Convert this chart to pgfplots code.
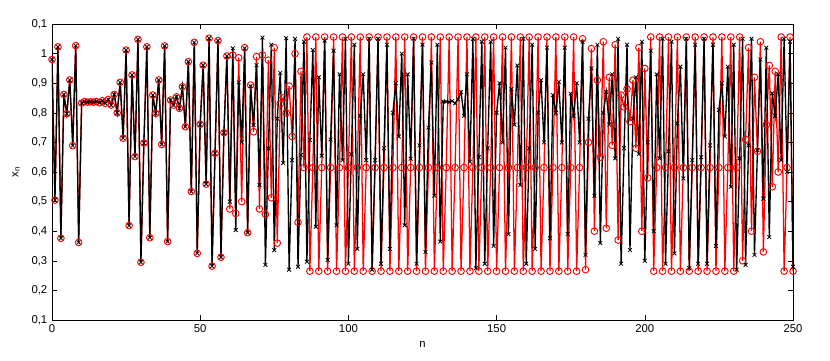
\documentclass[border=0pt]{standalone}
\usepackage{fontspec}
\setmainfont{Liberation Sans}
\usepackage{pgfplots}
\pgfplotsset{compat=1.18}
\begin{document}
\begin{tikzpicture}
\path[use as bounding box] (-39pt,-30pt) rectangle (583.5pt,240pt);
\begin{axis}[
  at={(0,0)}, anchor=south west, scale only axis,
  width=555.75pt, height=222pt,
  xmin=0, xmax=250, ymin=0.1, ymax=1.1,
  xtick={0,50,100,150,200,250},
  ytick={0.1,0.2,0.3,0.4,0.5,0.6,0.7,0.8,0.9,1.0,1.1},
  yticklabels={{0,1},{0,2},{0,3},{0,4},{0,5},{0,6},{0,7},{0,8},{0,9},{1},{0,1}},
  /pgf/number format/assume math mode=true,
  tick align=inside, xtick pos=both, ytick pos=both,
  major tick length=3.5pt,
  tick style={black, line width=0.4pt},
  axis line style={black, line width=0.6pt},
  tick label style={font=\fontsize{8.5}{9}\selectfont},
  label style={font=\fontsize{8.5}{9}\selectfont},
  xlabel={n}, ylabel={x\textsubscript{n}},
  xlabel style={yshift=0pt},
  ylabel style={yshift=2pt},
  clip=true,
]
\addplot[red, line width=0.95pt, mark=o, mark size=2.5pt, mark options={solid, line width=0.7pt}] table {
n y
0 0.98
1 0.505
2 1.023
3 0.376
4 0.862
5 0.797
6 0.911
7 0.689
8 1.027
9 0.362
10 0.833
11 0.838
12 0.836
13 0.837
14 0.836
15 0.838
16 0.834
17 0.841
18 0.832
19 0.845
20 0.826
21 0.862
22 0.80
23 0.903
24 0.714
25 1.012
26 0.419
27 0.928
28 0.652
29 1.048
30 0.295
31 0.698
32 1.023
33 0.378
34 0.86
35 0.798
36 0.911
37 0.693
38 1.026
39 0.365
40 0.843
41 0.826
42 0.854
43 0.815
44 0.888
45 0.753
46 0.973
47 0.534
48 1.038
49 0.325
50 0.761
51 0.961
52 0.559
53 1.052
54 0.282
55 0.663
56 1.044
57 0.312
58 0.733
59 0.992
60 0.475
61 0.995
62 0.46
63 0.986
64 0.50
65 1.02
66 0.395
67 0.894
68 0.736
69 0.99
70 0.475
71 0.995
72 0.457
73 0.978
74 0.513
75 1.02
76 0.36
77 0.83
78 0.85
79 0.80
80 0.89
81 0.72
82 1.0
83 0.43
84 0.94
85 0.615
86 1.056
87 0.265
88 0.615
89 1.056
90 0.265
91 0.615
92 1.056
93 0.265
94 0.615
95 1.056
96 0.265
97 0.615
98 1.056
99 0.265
100 0.615
101 1.056
102 0.265
103 0.615
104 1.056
105 0.265
106 0.615
107 1.056
108 0.265
109 0.615
110 1.056
111 0.265
112 0.615
113 1.056
114 0.265
115 0.615
116 1.056
117 0.265
118 0.615
119 1.056
120 0.265
121 0.615
122 1.056
123 0.265
124 0.615
125 1.056
126 0.265
127 0.615
128 1.056
129 0.265
130 0.615
131 1.056
132 0.265
133 0.615
134 1.056
135 0.265
136 0.615
137 1.056
138 0.265
139 0.615
140 1.056
141 0.265
142 0.615
143 1.056
144 0.265
145 0.615
146 1.056
147 0.265
148 0.615
149 1.056
150 0.265
151 0.615
152 1.056
153 0.265
154 0.615
155 1.056
156 0.265
157 0.615
158 1.056
159 0.265
160 0.615
161 1.056
162 0.265
163 0.615
164 1.056
165 0.265
166 0.615
167 1.056
168 0.265
169 0.615
170 1.056
171 0.265
172 0.615
173 1.056
174 0.265
175 0.615
176 1.056
177 0.265
178 0.615
179 1.05
180 0.27
181 0.70
182 1.017
183 0.40
184 0.91
185 0.65
186 1.04
187 0.41
188 0.92
189 0.69
190 1.03
191 0.37
192 0.86
193 0.82
194 0.88
195 0.77
196 0.91
197 0.68
198 1.02
199 0.40
200 0.95
201 0.58
202 1.056
203 0.265
204 0.615
205 1.056
206 0.265
207 0.615
208 1.056
209 0.265
210 0.615
211 1.056
212 0.265
213 0.615
214 1.056
215 0.265
216 0.615
217 1.056
218 0.265
219 0.615
220 1.056
221 0.265
222 0.615
223 1.056
224 0.265
225 0.615
226 1.056
227 0.265
228 0.615
229 1.056
230 0.265
231 0.615
232 1.056
233 0.30
234 0.71
235 1.02
236 0.40
237 0.92
238 0.67
239 1.04
240 0.33
241 0.76
242 0.96
243 0.55
244 0.94
245 0.60
246 1.056
247 0.265
248 0.615
249 1.056
250 0.265
};
\addplot[black, line width=1pt, mark=x, mark size=2pt, mark options={solid, line width=0.6pt}] table {
n y
0 0.98
1 0.505
2 1.023
3 0.376
4 0.862
5 0.797
6 0.911
7 0.689
8 1.027
9 0.362
10 0.833
11 0.838
12 0.836
13 0.837
14 0.836
15 0.838
16 0.834
17 0.841
18 0.832
19 0.845
20 0.826
21 0.862
22 0.80
23 0.903
24 0.714
25 1.012
26 0.419
27 0.928
28 0.652
29 1.048
30 0.295
31 0.698
32 1.023
33 0.378
34 0.86
35 0.798
36 0.911
37 0.693
38 1.026
39 0.365
40 0.843
41 0.826
42 0.854
43 0.815
44 0.888
45 0.753
46 0.973
47 0.534
48 1.038
49 0.325
50 0.761
51 0.961
52 0.559
53 1.052
54 0.282
55 0.663
56 1.044
57 0.312
58 0.733
59 0.992
60 0.50
61 1.018
62 0.404
63 0.903
64 0.70
65 1.018
66 0.395
67 0.89
68 0.759
69 0.961
70 0.556
71 1.054
72 0.286
73 0.68
74 1.03
75 0.336
76 0.78
77 0.935
78 0.63
79 1.052
80 0.27
81 0.64
82 1.05
83 0.28
84 0.657
85 1.04
86 0.297
87 0.708
88 1.012
89 0.415
90 0.92
91 0.655
92 1.044
93 0.303
94 0.71
95 1.01
96 0.42
97 0.93
98 0.64
99 1.05
100 0.29
101 0.66
102 1.03
103 0.34
104 0.79
105 0.93
106 0.64
107 1.05
108 0.27
109 0.64
110 1.05
111 0.29
112 0.68
113 1.03
114 0.34
115 0.80
116 0.90
117 0.72
118 1.0
119 0.42
120 0.93
121 0.645
122 1.05
123 0.29
124 0.69
125 1.03
126 0.33
127 0.75
128 0.97
129 0.52
130 1.03
131 0.365
132 0.838
133 0.838
134 0.836
135 0.840
136 0.832
137 0.846
138 0.87
139 0.79
140 0.93
141 0.635
142 1.05
143 0.275
144 0.65
145 1.04
146 0.29
147 0.68
148 1.04
149 0.35
150 0.80
151 0.90
152 0.70
153 1.02
154 0.39
155 0.88
156 0.76
157 0.96
158 0.556
159 1.05
160 0.29
161 0.68
162 1.03
163 0.34
164 0.80
165 0.91
166 0.70
167 1.02
168 0.376
169 0.86
170 0.80
171 0.905
172 0.70
173 1.02
174 0.39
175 0.865
176 0.79
177 0.90
178 0.70
179 1.04
180 0.32
181 0.78
182 0.95
183 0.52
184 1.03
185 0.36
186 0.80
187 0.87
188 0.76
189 0.93
190 0.646
191 1.05
192 0.29
193 0.68
194 1.03
195 0.336
196 0.78
197 0.92
198 0.66
199 1.04
200 0.30
201 0.70
202 1.01
203 0.40
204 0.93
205 0.646
206 1.05
207 0.29
208 0.67
209 1.04
210 0.325
211 0.764
212 0.956
213 0.578
214 1.05
215 0.275
216 0.64
217 1.03
218 0.29
219 0.65
220 1.05
221 0.29
222 0.69
223 1.03
224 0.35
225 0.81
226 0.90
227 0.72
228 0.956
229 0.55
230 1.03
231 0.27
232 0.646
233 1.05
234 0.286
235 0.69
236 1.05
237 0.32
238 0.674
239 0.98
240 0.51
241 1.02
242 0.38
243 0.866
244 0.79
245 0.93
246 0.64
247 1.05
248 0.60
249 1.04
250 0.28
};
\end{axis}
\end{tikzpicture}
\end{document}
